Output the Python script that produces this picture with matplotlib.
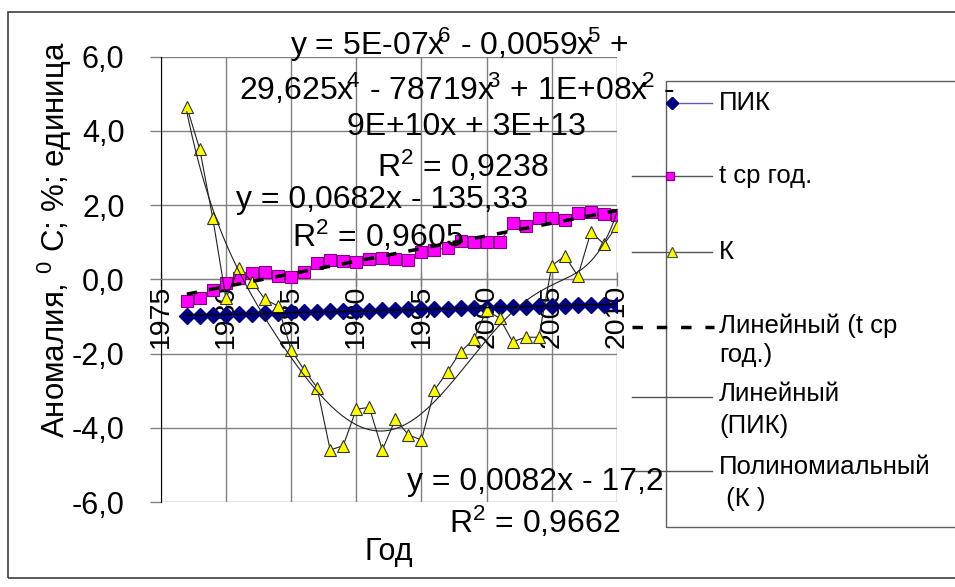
import numpy as np
import matplotlib
matplotlib.use("Agg")
import matplotlib.pyplot as plt
from matplotlib.lines import Line2D
from matplotlib.patches import Rectangle

plt.rcParams["font.family"] = ["Liberation Sans", "DejaVu Sans"]
plt.rcParams["mathtext.fontset"] = "custom"
plt.rcParams["mathtext.rm"] = "Liberation Sans"
plt.rcParams["mathtext.it"] = "Liberation Sans"

# Данные
years = list(range(1977, 2011))
pik = [-1.00, -0.98, -0.97, -0.95, -0.94, -0.93, -0.92, -0.90, -0.89, -0.88,
       -0.87, -0.86, -0.85, -0.85, -0.84, -0.83, -0.82, -0.81, -0.80, -0.79,
       -0.79, -0.78, -0.77, -0.76, -0.75, -0.75, -0.74, -0.73, -0.72, -0.71,
       -0.70, -0.70, -0.69, -0.68]
t_sr = [-0.58, -0.51, -0.29, -0.11, 0.04, 0.16, 0.20, 0.09, 0.07, 0.20,
        0.43, 0.52, 0.50, 0.47, 0.56, 0.58, 0.54, 0.52, 0.74, 0.79,
        0.85, 1.03, 1.01, 1.01, 1.00, 1.51, 1.44, 1.66, 1.66, 1.60,
        1.78, 1.82, 1.75, 1.73]
k = [4.65, 3.50, 1.64, -0.51, 0.31, -0.06, -0.54, -0.72, -1.90, -2.44,
     -2.92, -4.60, -4.48, -3.50, -3.45, -4.60, -3.77, -4.19, -4.33, -2.98,
     -2.49, -1.95, -1.62, -0.83, -1.05, -1.68, -1.56, -1.56, 0.37, 0.63,
     0.09, 1.28, 0.95, 1.43]

y_ticks = [6, 4, 2, 0, -2, -4, -6]
x_ticks = [1975, 1980, 1985, 1990, 1995, 2000, 2005, 2010]

W, H = 955, 587


def px(x, y):
    return x / W, 1 - y / H


fig = plt.figure(figsize=(W / 100, H / 100), dpi=100)
ax = fig.add_axes([160.7 / W, 1 - 502 / H, (617 - 160.7) / W, (502 - 56.7) / H])

# ось X пересекает ось Y в нуле (до настройки подписей!)
for s in ["top", "right"]:
    ax.spines[s].set_visible(False)
ax.spines["bottom"].set_position(("data", 0))
ax.spines["bottom"].set_color("#808080")
ax.spines["left"].set_color("#000000")

yrs = np.array(years, dtype=float)
grid_x = np.linspace(1977, 2010, 300)

ax.plot(years, pik, color="#000080", lw=1, marker="D", ms=8,
        markerfacecolor="#000080", markeredgecolor="#000080", zorder=3)
ax.plot(years, t_sr, color="#333333", lw=0.8, marker="s", ms=8,
        markerfacecolor="#FF00FF", markeredgecolor="#800080", mew=0.8, zorder=3)
ax.plot(years, k, color="#222222", lw=0.8, marker="^", ms=9,
        markerfacecolor="#FFFF00", markeredgecolor="#333333", mew=0.8, zorder=3)

# линии тренда
p_t = np.polyfit(yrs, t_sr, 1)
ax.plot(grid_x, np.polyval(p_t, grid_x), color="black", lw=2.5,
        dashes=(3, 3.5), zorder=4)
p_pik = np.polyfit(yrs, pik, 1)
ax.plot(grid_x, np.polyval(p_pik, grid_x), color="black", lw=1, zorder=4)
poly_k = np.polynomial.Polynomial.fit(yrs, k, 6)
ax.plot(grid_x, poly_k(grid_x), color="#222222", lw=0.8, zorder=4)

ax.set_xlim(1975, 2010)
ax.set_ylim(-6, 6)
ax.set_yticks(y_ticks)
ax.set_yticklabels([f"{v:.1f}".replace(".", ",") for v in y_ticks], fontsize=22)
ax.set_xticks(x_ticks)
ax.set_xticklabels([str(v) for v in x_ticks], fontsize=20.5, rotation=90,
                   va="top", ha="center")
ax.tick_params(axis="y", length=8, width=1, color="#808080", pad=18)
ax.tick_params(axis="x", length=10, width=1, color="#808080", direction="inout", pad=-1)
ax.grid(True, color="#808080", lw=1)
ax.set_axisbelow(True)
ax.patch.set_alpha(0)

# уравнения
eq_fs = 23
sup = r"$\mathrm{x}^{\!\!%s}$"
fig.text(*px(459, 55), "y = 5E-07" + sup % "6" + " - 0,0059" + sup % "5" + " +",
         fontsize=eq_fs, ha="center", va="baseline")
fig.text(*px(457, 100), "29,625" + sup % "4" + " - 78719" + sup % "3" + " + 1E+08" + sup % "2" + " -",
         fontsize=eq_fs, ha="center", va="baseline")
fig.text(*px(466, 135), "9E+10x + 3E+13", fontsize=eq_fs, ha="center", va="baseline")
fig.text(*px(463, 177), r"R$^{2}$ = 0,9238", fontsize=eq_fs, ha="center", va="baseline")
fig.text(*px(382, 208), "y = 0,0682x - 135,33", fontsize=eq_fs, ha="center", va="baseline")
fig.text(*px(378, 247), r"R$^{2}$ = 0,9605", fontsize=eq_fs, ha="center", va="baseline")
fig.text(*px(535, 490), "y = 0,0082x - 17,2", fontsize=eq_fs, ha="center", va="baseline")
fig.text(*px(535, 533), r"R$^{2}$ = 0,9662", fontsize=eq_fs, ha="center", va="baseline")

# подписи осей
fig.text(*px(55, 240), r"Аномалия, ${}^{0}$ C; %; единица", fontsize=22.5,
         rotation=90, ha="center", va="center")
fig.text(*px(389, 552), "Год", fontsize=22, ha="center", va="center")

# рамки
x0, y0 = px(8, 578)
x1, y1 = px(975, 12)
fig.add_artist(Rectangle((x0, y0), x1 - x0, y1 - y0, transform=fig.transFigure,
                         fill=False, edgecolor="#404040", lw=1.2))
x0, y0 = px(666, 527)
x1, y1 = px(975, 81)
fig.add_artist(Rectangle((x0, y0), x1 - x0, y1 - y0, transform=fig.transFigure,
                         fill=False, edgecolor="#606060", lw=1))

# легенда
leg_fs = 18.5
tx = 719
fig.add_artist(Line2D(*zip(px(672, 103), px(712, 103)), transform=fig.transFigure,
                      color="#6060A0", lw=1))
fig.add_artist(Line2D(*zip(px(672, 103), px(672, 103)), transform=fig.transFigure,
                      marker="D", ms=6, color="#000080"))
fig.text(*px(tx, 103), "ПИК", fontsize=leg_fs, va="center")

fig.add_artist(Line2D(*zip(px(632, 176), px(712, 176)), transform=fig.transFigure,
                      color="#555555", lw=1))
fig.add_artist(Line2D(*zip(px(670, 176), px(670, 176)), transform=fig.transFigure,
                      marker="s", ms=6, markerfacecolor="#FF00FF",
                      markeredgecolor="#800080", mew=0.8))
fig.text(*px(tx, 176), "t ср год.", fontsize=leg_fs, va="center")

fig.add_artist(Line2D(*zip(px(632, 252), px(712, 252)), transform=fig.transFigure,
                      color="#555555", lw=1))
fig.add_artist(Line2D(*zip(px(672, 252), px(672, 252)), transform=fig.transFigure,
                      marker="^", ms=7, markerfacecolor="#FFFF00",
                      markeredgecolor="#555555", mew=0.8))
fig.text(*px(tx, 252), "К", fontsize=leg_fs, va="center")

fig.add_artist(Line2D(*zip(px(632, 327), px(714, 327)), transform=fig.transFigure,
                      color="black", lw=2.5, dashes=(3, 4)))
fig.text(*px(tx, 326), "Линейный (t ср", fontsize=leg_fs, va="center")
fig.text(*px(tx, 355), "год.)", fontsize=leg_fs, va="center")

fig.add_artist(Line2D(*zip(px(632, 397), px(712, 397)), transform=fig.transFigure,
                      color="#555555", lw=1))
fig.text(*px(tx, 394), "Линейный", fontsize=leg_fs, va="center")
fig.text(*px(tx, 426), "(ПИК)", fontsize=leg_fs, va="center")

fig.add_artist(Line2D(*zip(px(632, 471), px(712, 471)), transform=fig.transFigure,
                      color="#555555", lw=1))
fig.text(*px(tx, 467), "Полиномиальный", fontsize=leg_fs, va="center")
fig.text(*px(tx, 499), " (К )", fontsize=leg_fs, va="center")

fig.savefig("out.png", dpi=100)
